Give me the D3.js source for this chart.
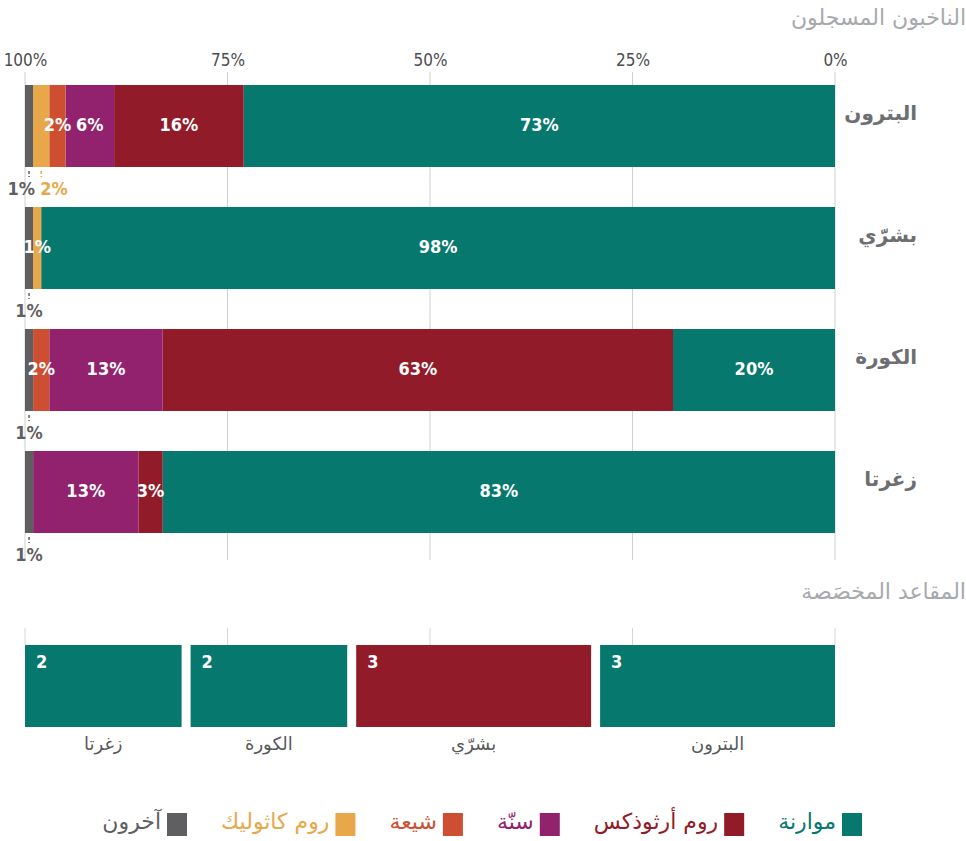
<!DOCTYPE html>
<html>
<head>
<meta charset="utf-8">
<script src="https://cdn.jsdelivr.net/npm/d3@7"></script>
<style>
  body { margin: 0; background: #fff; }
  .num { font-family: 'Liberation Sans Narrow', 'DejaVu Sans Condensed', sans-serif; }
  .ar { font-family: 'DejaVu Sans', sans-serif; }
</style>
</head>
<body>
<svg id="chart"></svg>
<script>
// districts, top to bottom
const districts = ["البترون", "بشرّي", "الكورة", "زغرتا"]

// registered voters, % per district (same order as districts)
const maronite = [73, 98, 20, 83]
const orthodox = [16, 0, 63, 3]
const sunni    = [6, 0, 14, 13]
const shia     = [2, 0, 2, 0]
const catholic = [2, 1, 0, 0]
const others   = [1, 1, 1, 1]

// the picture prints 13% for the Sunni share of Koura
const labelOverride = { "الكورة|sunni": "13%" }

// labels drawn under the bar instead of inside it
const belowLabels = ["البترون|others", "البترون|catholic", "بشرّي|others", "الكورة|others", "زغرتا|others"]

// allocated seats
const seats = [3, 3, 2, 2]
const seatGroup = ["maronite", "orthodox", "maronite", "maronite"]

const groupKeys  = ["maronite", "orthodox", "sunni", "shia", "catholic", "others"]
const groupNames = ["موارنة", "روم أرثوذكس", "سنّة", "شيعة", "روم كاثوليك", "آخرون"]
const groupColors = ["#07786e", "#921b29", "#93226e", "#cd4e31", "#e8a84a", "#5f5f62"]

const tickValues = [100, 75, 50, 25, 0]

const
    svgWidth = 966,
    svgHeight = 841,
    LEFT = 25,
    RIGHT = 835,
    BAR_TOP = 85,
    BAR_BOTTOM = 533,
    SEAT_TOP = 645,
    SEAT_HEIGHT = 82,
    SEAT_GAP = 9

const color = d3.scaleOrdinal().domain(groupKeys).range(groupColors)

const svg = d3.select('#chart')
    .attr('width', svgWidth)
    .attr('height', svgHeight)

// rows for the stack
const series = { maronite, orthodox, sunni, shia, catholic, others }
const rows = districts.map((name, i) => {
    const r = { name }
    groupKeys.forEach(k => r[k] = series[k][i])
    return r
})
const stacked = d3.stack().keys(groupKeys)(rows)

const x = d3.scaleLinear().domain([0, 100]).range([RIGHT, LEFT])
const y = d3.scaleBand().domain(districts).range([BAR_TOP, BAR_BOTTOM]).paddingInner(40 / 122)

// TITLE
svg.append('text')
    .attr('class', 'ar')
    .attr('x', 966).attr('y', 19)
    .attr('text-anchor', 'end')
    .attr('dominant-baseline', 'middle')
    .attr('font-size', 22)
    .attr('fill', '#a7a9ac')
    .text('الناخبون المسجلون')

// GRIDLINES
svg.append('g')
    .selectAll('line')
    .data(tickValues)
    .join('line')
    .attr('x1', d => x(d)).attr('x2', d => x(d))
    .attr('y1', 72).attr('y2', 560)
    .attr('stroke', '#cfcfcf')
    .attr('stroke-width', 1)

// AXIS
const axis = svg.append('g')
    .attr('transform', 'translate(0,66)')
    .call(d3.axisTop(x).tickValues(tickValues).tickFormat(d => d + '%').tickSize(0).tickPadding(0))
axis.select('.domain').remove()
axis.selectAll('text')
    .attr('class', 'num')
    .attr('font-size', 17)
    .attr('fill', '#4d4d4f')

// BARS
const layers = svg.append('g')
    .selectAll('g')
    .data(stacked)
    .join('g')
    .attr('fill', d => color(d.key))

layers.selectAll('rect')
    .data(d => d.map(v => Object.assign(v, { key: d.key })))
    .join('rect')
    .attr('x', d => x(d[1]))
    .attr('y', d => y(d.data.name))
    .attr('width', d => x(d[0]) - x(d[1]))
    .attr('height', y.bandwidth())

// LABELS
const labels = []
stacked.forEach(layer => {
    layer.forEach(d => {
        const v = d[1] - d[0]
        if (!v) return
        const id = d.data.name + '|' + layer.key
        labels.push({
            key: layer.key,
            name: d.data.name,
            cx: (x(d[0]) + x(d[1])) / 2,
            text: labelOverride[id] || v + '%',
            below: belowLabels.includes(id)
        })
    })
})

const labelG = svg.append('g').attr('class', 'num').attr('font-weight', 'bold').attr('font-size', 18)

labelG.selectAll('text.in')
    .data(labels.filter(d => !d.below))
    .join('text')
    .attr('class', 'in')
    .attr('x', d => d.cx)
    .attr('y', d => y(d.name) + y.bandwidth() / 2)
    .attr('text-anchor', 'middle')
    .attr('dominant-baseline', 'middle')
    .attr('fill', '#fff')
    .text(d => d.text)

const below = labels.filter(d => d.below)
below.forEach(d => {
    const same = below.filter(o => o.name === d.name)
    d.anchor = same.length > 1 ? (d.key === 'others' ? 'end' : 'start') : 'middle'
    d.dx = same.length > 1 ? (d.key === 'others' ? 6 : -1) : 0
})

labelG.selectAll('line')
    .data(below)
    .join('line')
    .attr('x1', d => d.cx).attr('x2', d => d.cx)
    .attr('y1', d => y(d.name) + y.bandwidth() + 4)
    .attr('y2', d => y(d.name) + y.bandwidth() + 10)
    .attr('stroke', d => color(d.key))
    .attr('stroke-width', 1.5)
    .attr('stroke-dasharray', '3,2')

labelG.selectAll('text.out')
    .data(below)
    .join('text')
    .attr('class', 'out')
    .attr('x', d => d.cx + d.dx)
    .attr('y', d => y(d.name) + y.bandwidth() + 23)
    .attr('text-anchor', d => d.anchor)
    .attr('dominant-baseline', 'middle')
    .attr('fill', d => color(d.key))
    .text(d => d.text)

// DISTRICT NAMES
svg.append('g')
    .selectAll('text')
    .data(districts)
    .join('text')
    .attr('class', 'ar')
    .attr('x', 917)
    .attr('y', d => y(d) + y.bandwidth() / 2 - 12)
    .attr('text-anchor', 'end')
    .attr('dominant-baseline', 'middle')
    .attr('font-size', 20)
    .attr('font-weight', 'bold')
    .attr('fill', '#6d6e71')
    .text(d => d)

// SEATS TITLE
svg.append('text')
    .attr('class', 'ar')
    .attr('x', 966).attr('y', 593)
    .attr('text-anchor', 'end')
    .attr('dominant-baseline', 'middle')
    .attr('font-size', 22)
    .attr('fill', '#a7a9ac')
    .text('المقاعد المخصَصة')

// seat ticks
svg.append('g')
    .selectAll('line')
    .data(tickValues)
    .join('line')
    .attr('x1', d => x(d)).attr('x2', d => x(d))
    .attr('y1', 628).attr('y2', SEAT_TOP)
    .attr('stroke', '#d6d6d6')

// SEAT BARS (right to left, with gaps)
const totalSeats = d3.sum(seats)
const xs = d3.scaleLinear().domain([0, totalSeats]).range([RIGHT, LEFT + SEAT_GAP * (seats.length - 1)])
const cum = d3.cumsum([0].concat(seats))
const seatRows = districts.map((name, i) => ({
    name,
    n: seats[i],
    group: seatGroup[i],
    right: xs(cum[i]) - i * SEAT_GAP,
    left: xs(cum[i + 1]) - i * SEAT_GAP
}))

const seatG = svg.append('g')
seatG.selectAll('rect')
    .data(seatRows)
    .join('rect')
    .attr('x', d => d.left)
    .attr('y', SEAT_TOP)
    .attr('width', d => d.right - d.left)
    .attr('height', SEAT_HEIGHT)
    .attr('fill', d => color(d.group))

seatG.selectAll('text.n')
    .data(seatRows)
    .join('text')
    .attr('class', 'num n')
    .attr('x', d => d.left + 11)
    .attr('y', SEAT_TOP + 18)
    .attr('dominant-baseline', 'middle')
    .attr('font-size', 18)
    .attr('font-weight', 'bold')
    .attr('fill', '#fff')
    .text(d => d.n)

seatG.selectAll('text.name')
    .data(seatRows)
    .join('text')
    .attr('class', 'ar name')
    .attr('x', d => (d.left + d.right) / 2)
    .attr('y', SEAT_TOP + SEAT_HEIGHT + 18)
    .attr('text-anchor', 'middle')
    .attr('dominant-baseline', 'middle')
    .attr('font-size', 18)
    .attr('fill', '#58595b')
    .text(d => d.name)

// LEGEND (right to left)
const legend = svg.append('g')
let right = 862
groupKeys.forEach((k, i) => {
    legend.append('rect')
        .attr('x', right - 20).attr('y', 813)
        .attr('width', 20).attr('height', 23)
        .attr('fill', color(k))
    const t = legend.append('text')
        .attr('class', 'ar')
        .attr('x', right - 26).attr('y', 823)
        .attr('text-anchor', 'end')
        .attr('dominant-baseline', 'middle')
        .attr('font-size', 22)
        .attr('fill', color(k))
        .text(groupNames[i])
    right = right - 26 - t.node().getComputedTextLength() - 34
})
</script>
</body>
</html>
